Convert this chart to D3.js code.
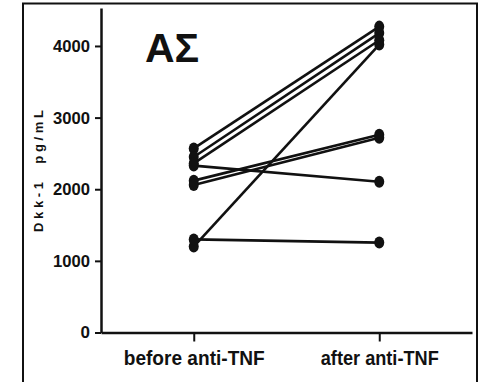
<!DOCTYPE html>
<html>
<head>
<meta charset="utf-8">
<script src="https://cdn.jsdelivr.net/npm/d3@7"></script>
<style>
  html, body { margin: 0; padding: 0; background: #fff; overflow: hidden; }
  svg { display: block; }
  text { font-family: "Liberation Sans", Arial, sans-serif; font-weight: bold; fill: #111; }
</style>
</head>
<body>
<svg id="chart" width="482" height="382" viewBox="0 0 482 382"></svg>
<script>
// Paired Dkk-1 measurements per patient, before and after anti-TNF therapy
const categories = ["before anti-TNF", "after anti-TNF"];
const beforeValues = [2570, 2450, 2360, 2330, 2120, 2060, 1200, 1300];
const afterValues  = [4270, 4180, 4080, 2105, 2760, 2720, 4020, 1255];
const yTicks = [0, 1000, 2000, 3000, 4000];
const yTitle = "Dkk-1  pg/mL";
const panelLabel = "ΑΣ";

const svg = d3.select("#chart");

const x = d3.scalePoint().domain(categories).range([101, 472]).padding(0.5);
const y = d3.scaleLinear().domain([0, 4530]).range([332.5, 8]);

// outer frame
svg.append("path")
  .attr("d", "M23,382 L23,3.5 L477,3.5 L477,382")
  .attr("fill", "none").attr("stroke", "#111").attr("stroke-width", 2);

// y axis
const yAxis = svg.append("g")
  .attr("transform", "translate(101,0)")
  .call(d3.axisLeft(y).tickValues(yTicks).tickFormat(d3.format("d"))
        .tickSize(6).tickSizeOuter(0).tickPadding(5));
yAxis.select(".domain").attr("stroke", "#111").attr("stroke-width", 2.5);
yAxis.selectAll(".tick line").attr("stroke", "#111").attr("stroke-width", 2);
yAxis.selectAll(".tick text")
  .attr("font-size", 17).attr("fill", "#111")
  .attr("font-family", "Liberation Sans, Arial, sans-serif").attr("font-weight", "bold")
  .each(function(d) { if (d > 0) d3.select(this).attr("textLength", 37).attr("lengthAdjust", "spacingAndGlyphs"); });

// x axis
const xAxis = svg.append("g")
  .attr("transform", "translate(0,332.5)")
  .call(d3.axisBottom(x).tickSize(9).tickSizeOuter(0).tickPadding(9.5));
xAxis.select(".domain").attr("stroke", "#111").attr("stroke-width", 2.5);
xAxis.selectAll(".tick line").attr("stroke", "#111").attr("stroke-width", 2);
xAxis.selectAll(".tick text")
  .attr("font-size", 19.5).attr("fill", "#111")
  .attr("font-family", "Liberation Sans, Arial, sans-serif").attr("font-weight", "bold")
  .attr("textLength", (d, i) => i === 0 ? 141 : 118)
  .attr("lengthAdjust", "spacingAndGlyphs");

// y axis title
svg.append("text")
  .attr("transform", "translate(42.5,171) rotate(-90)")
  .attr("text-anchor", "middle")
  .attr("font-size", 13)
  .attr("textLength", 122)
  .attr("lengthAdjust", "spacing")
  .style("white-space", "pre")
  .text(yTitle);

// patient lines
const pairs = beforeValues.map((b, i) => ({ before: b, after: afterValues[i] }));
svg.append("g").selectAll("line")
  .data(pairs).join("line")
  .attr("x1", x(categories[0])).attr("y1", d => y(d.before))
  .attr("x2", x(categories[1])).attr("y2", d => y(d.after))
  .attr("stroke", "#111").attr("stroke-width", 2.6);

// points
const pts = [];
pairs.forEach(p => {
  pts.push({ c: categories[0], v: p.before });
  pts.push({ c: categories[1], v: p.after });
});
svg.append("g").selectAll("ellipse")
  .data(pts).join("ellipse")
  .attr("cx", d => x(d.c)).attr("cy", d => y(d.v))
  .attr("rx", 5).attr("ry", 6)
  .attr("fill", "#111");

// panel label
svg.append("text")
  .attr("x", 145).attr("y", 62)
  .attr("font-size", 41)
  .text(panelLabel);
</script>
</body>
</html>
